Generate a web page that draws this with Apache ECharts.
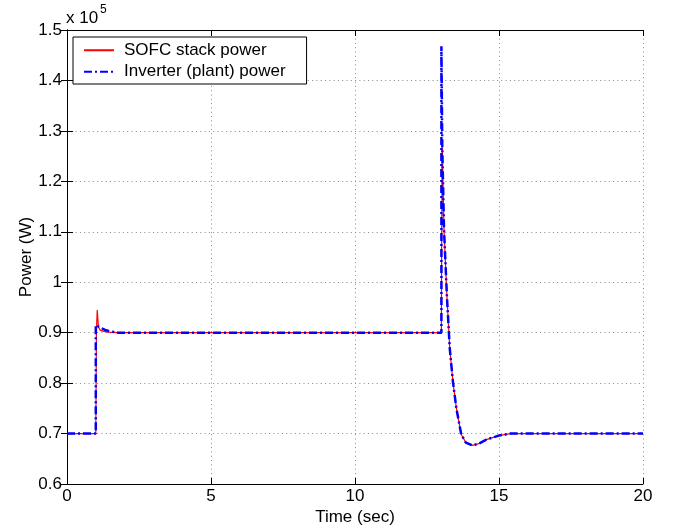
<!DOCTYPE html>
<html>
<head>
<meta charset="utf-8">
<script src="https://cdn.jsdelivr.net/npm/echarts@6/dist/echarts.min.js"></script>
<style>
  html, body { margin: 0; padding: 0; background: #fff; }
  #chart { width: 678px; height: 531px; }
</style>
</head>
<body>
<div id="chart"></div>
<script>
// power values are in units of 1e5 W (axis shows "x 10^5")
const sofcTime = [0, 1.0, 1.02, 1.05, 1.09, 1.15, 1.25, 1.4, 1.8, 13.0, 13.01, 13.03, 13.09, 13.19, 13.29, 13.4, 13.52, 13.69, 13.85, 14.07, 14.3, 14.56, 14.99, 15.4, 16, 20];
const sofcPower = [0.7, 0.7, 0.9, 0.945, 0.912, 0.905, 0.903, 0.901, 0.9, 0.9, 1.1, 1.268, 1.106, 0.974, 0.869, 0.803, 0.75, 0.698, 0.682, 0.6765, 0.68, 0.688, 0.696, 0.7, 0.7, 0.7];

const invTime = [0, 1.0, 1.0, 1.1, 1.3, 1.46, 1.8, 13.0, 13.0, 13.03, 13.09, 13.19, 13.29, 13.4, 13.52, 13.69, 13.85, 14.07, 14.3, 14.56, 14.99, 15.4, 16, 20];
const invPower = [0.7, 0.7, 0.915, 0.912, 0.906, 0.903, 0.9, 0.9, 1.468, 1.268, 1.106, 0.974, 0.869, 0.803, 0.75, 0.698, 0.682, 0.6765, 0.68, 0.688, 0.696, 0.7, 0.7, 0.7];

const seriesNames = ["SOFC stack power", "Inverter (plant) power"];
const xLabel = "Time (sec)";
const yLabel = "Power (W)";

const chart = echarts.init(document.getElementById("chart"));
const font = "'Liberation Sans', Arial, Helvetica, sans-serif";

function pairs(xs, ys) {
  return xs.map((x, i) => [x, ys[i]]);
}

const gridLine = { show: true, lineStyle: { color: "#888", width: 1, type: [1, 3.3] } };
const tick = { show: true, inside: true, length: 6, lineStyle: { color: "#000" } };
const axisLine = { show: true, lineStyle: { color: "#000", width: 1 } };

chart.setOption({
  animation: false,
  backgroundColor: "#fff",
  grid: { left: 67, right: 35, top: 30, bottom: 46, show: false },
  graphic: [
    { type: "text", left: 66, top: 10, style: { text: "x 10", font: "17px " + font, fill: "#000" } },
    { type: "text", left: 100, top: 4, style: { text: "5", font: "12px " + font, fill: "#000" } }
  ],
  legend: {
    orient: "vertical",
    left: 73,
    top: 37,
    padding: [3, 0, 2, 10],
    itemWidth: 30,
    itemHeight: 14,
    itemGap: 1,
    itemStyle: { opacity: 0 },
    backgroundColor: "#fff",
    borderColor: "#000",
    borderWidth: 1,
    borderRadius: 0,
    data: seriesNames,
    textStyle: { fontFamily: font, fontSize: 17, color: "#000", lineHeight: 20.5, padding: [0, 21, 0, 5] }
  },
  xAxis: [
    {
      type: "value", min: 0, max: 20, interval: 5,
      name: xLabel, nameLocation: "middle", nameGap: 25, nameMoveOverlap: false,
      nameTextStyle: { fontFamily: font, fontSize: 17, color: "#000" },
      axisLine: axisLine, axisTick: tick, splitLine: gridLine,
      axisLabel: { fontFamily: font, fontSize: 17, color: "#000", margin: 4 }
    },
    {
      type: "value", min: 0, max: 20, interval: 5, position: "top",
      axisLine: axisLine, axisTick: tick, splitLine: { show: false },
      axisLabel: { show: false }
    }
  ],
  yAxis: [
    {
      type: "value", min: 0.6, max: 1.5, interval: 0.1,
      name: yLabel, nameLocation: "middle", nameGap: 32, nameRotate: 90, nameMoveOverlap: false,
      nameTextStyle: { fontFamily: font, fontSize: 17, color: "#000" },
      axisLine: axisLine, axisTick: tick, splitLine: gridLine,
      axisLabel: {
        fontFamily: font, fontSize: 17, color: "#000", margin: 5,
        formatter: (v) => String(parseFloat(v.toFixed(1)))
      }
    },
    {
      type: "value", min: 0.6, max: 1.5, interval: 0.1, position: "right",
      axisLine: axisLine, axisTick: tick, splitLine: { show: false },
      axisLabel: { show: false }
    }
  ],
  series: [
    {
      name: seriesNames[0],
      type: "line",
      symbol: "none",
      data: pairs(sofcTime, sofcPower),
      lineStyle: { color: "#ff0000", width: 1.2 },
      itemStyle: { color: "#ff0000" }
    },
    {
      name: seriesNames[1],
      type: "line",
      symbol: "none",
      data: pairs(invTime, invPower),
      lineStyle: { color: "#0000ff", width: 2.5, type: [8, 3, 2, 3] },
      itemStyle: { color: "#0000ff" }
    }
  ]
});

window.addEventListener("resize", function () {
  chart.resize();
});
</script>
</body>
</html>
